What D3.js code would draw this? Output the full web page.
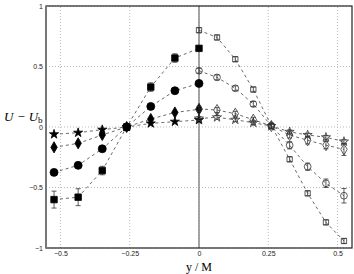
<!DOCTYPE html>
<html>
<head>
<meta charset="utf-8">
<script src="https://cdn.jsdelivr.net/npm/d3@7"></script>
<style>
  body { margin: 0; background: #fff; }
  svg { display: block; }
</style>
</head>
<body>
<div id="chart"></div>
<script>
// left half (filled markers) and right half (open markers)
var xLeft = [-0.523, -0.436, -0.349, -0.261, -0.174, -0.087, 0];
var xRight = [0, 0.065, 0.131, 0.196, 0.261, 0.327, 0.392, 0.458, 0.523];

var sqFilled = [-0.60, -0.58, -0.36, 0.0, 0.33, 0.57, 0.65];
var sqFilledErr = [0.07, 0.07, 0.035, 0.01, 0.035, 0.035, 0.01];
var ciFilled = [-0.375, -0.317, -0.18, 0.0, 0.17, 0.30, 0.36];
var diFilled = [-0.168, -0.135, -0.066, 0.0, 0.066, 0.12, 0.146];
var stFilled = [-0.06, -0.047, -0.022, 0.0, 0.03, 0.044, 0.058];

var sqOpen = [0.80, 0.74, 0.56, 0.31, 0.01, -0.267, -0.548, -0.788, -0.942];
var ciOpen = [0.465, 0.41, 0.32, 0.19, 0.008, -0.151, -0.328, -0.465, -0.568];
var ciOpenErr = [0.02, 0.02, 0.02, 0.02, 0.02, 0.03, 0.03, 0.035, 0.06];
var diOpen = [0.15, 0.14, 0.11, 0.06, 0.008, -0.066, -0.11, -0.15, -0.185];
var diOpenErr = [0.02, 0.02, 0.02, 0.02, 0.02, 0.025, 0.03, 0.03, 0.05];
var stOpen = [0.07, 0.08, 0.06, 0.035, 0.008, -0.04, -0.066, -0.085, -0.12];

var xTicks = [-0.5, -0.25, 0, 0.25, 0.5];
var yTicks = [-1, -0.5, 0, 0.5, 1];

var width = 354, height = 274;
var margin = {left: 46, right: 2, top: 6, bottom: 26};

var svg = d3.select('#chart').append('svg')
  .attr('width', width)
  .attr('height', height);

var x = d3.scaleLinear().domain([-0.552, 0.552]).range([margin.left, width - margin.right]);
var y = d3.scaleLinear().domain([-1, 1]).range([height - margin.bottom, margin.top]);

// grid
svg.append('g').selectAll('line')
  .data(xTicks).enter().append('line')
  .attr('x1', function (d) {return x(d);})
  .attr('x2', function (d) {return x(d);})
  .attr('y1', y(-1)).attr('y2', y(1))
  .attr('stroke', '#bbb').attr('stroke-width', 1)
  .attr('stroke-dasharray', '1,2');
svg.append('g').selectAll('line')
  .data(yTicks).enter().append('line')
  .attr('y1', function (d) {return y(d);})
  .attr('y2', function (d) {return y(d);})
  .attr('x1', x.range()[0]).attr('x2', x.range()[1])
  .attr('stroke', '#bbb').attr('stroke-width', 1)
  .attr('stroke-dasharray', '1,2');

// vertical line at zero
svg.append('line')
  .attr('x1', x(0)).attr('x2', x(0))
  .attr('y1', y(-1)).attr('y2', y(1))
  .attr('stroke', '#888').attr('stroke-width', 1.5);

// axes
var fmt = function (d) {return d === 0 ? '0' : String(d).replace('-', '\u2212');};
var xAxis = svg.append('g')
  .attr('transform', 'translate(0,' + y(-1) + ')')
  .call(d3.axisBottom(x).tickValues(xTicks).tickSize(0).tickPadding(3).tickFormat(fmt));
var yAxis = svg.append('g')
  .attr('transform', 'translate(' + x.range()[0] + ',0)')
  .call(d3.axisLeft(y).tickValues(yTicks).tickSize(0).tickPadding(3).tickFormat(fmt));
[xAxis, yAxis].forEach(function (a) {
  a.select('.domain').remove();
  a.selectAll('text').attr('font-family', 'Liberation Sans, Arial, sans-serif')
    .attr('font-size', 7).attr('fill', '#222');
});

// frame
svg.append('rect')
  .attr('x', x.range()[0]).attr('y', y(1))
  .attr('width', x.range()[1] - x.range()[0])
  .attr('height', y(-1) - y(1))
  .attr('fill', 'none').attr('stroke', '#222').attr('stroke-width', 1.2);
svg.append('line')
  .attr('x1', x.range()[0]).attr('x2', x.range()[0])
  .attr('y1', y(-1)).attr('y2', y(1))
  .attr('stroke', '#777').attr('stroke-width', 2);

var line = d3.line()
  .x(function (d) {return x(d[0]);})
  .y(function (d) {return y(d[1]);});

function zip(xs, ys, es) {
  return xs.map(function (v, i) {return [v, ys[i], es ? es[i] : 0];});
}

var series = [
  {pts: zip(xLeft, sqFilled, sqFilledErr), shape: d3.symbolSquare, size: 42, fill: '#000'},
  {pts: zip(xLeft, ciFilled), shape: d3.symbolCircle, size: 50, fill: '#000'},
  {pts: zip(xLeft, diFilled), shape: d3.symbolDiamond, size: 36, fill: '#000'},
  {pts: zip(xLeft, stFilled), shape: d3.symbolStar, size: 26, fill: '#000'},
  {pts: zip(xRight, sqOpen, sqOpen.map(function () {return 0.02;})), shape: d3.symbolSquare, size: 28, fill: 'none'},
  {pts: zip(xRight, ciOpen, ciOpenErr), shape: d3.symbolCircle, size: 36, fill: 'none'},
  {pts: zip(xRight, diOpen, diOpenErr), shape: d3.symbolDiamond, size: 36, fill: 'none'},
  {pts: zip(xRight, stOpen, stOpen.map(function () {return 0.015;})), shape: d3.symbolStar, size: 26, fill: 'none'}
];

series.forEach(function (s) {
  svg.append('path')
    .datum(s.pts)
    .attr('d', line)
    .attr('fill', 'none')
    .attr('stroke', '#444')
    .attr('stroke-width', 0.8)
    .attr('stroke-dasharray', '3,3');

  var g = svg.append('g');
  var eb = g.selectAll('.err').data(s.pts.filter(function (d) {return d[2] > 0;}))
    .enter().append('g').attr('stroke', '#333').attr('stroke-width', 0.8);
  eb.append('line')
    .attr('x1', function (d) {return x(d[0]);})
    .attr('x2', function (d) {return x(d[0]);})
    .attr('y1', function (d) {return y(d[1] - d[2]);})
    .attr('y2', function (d) {return y(d[1] + d[2]);});
  [-1, 1].forEach(function (sgn) {
    eb.append('line')
      .attr('x1', function (d) {return x(d[0]) - 2.5;})
      .attr('x2', function (d) {return x(d[0]) + 2.5;})
      .attr('y1', function (d) {return y(d[1] + sgn * d[2]);})
      .attr('y2', function (d) {return y(d[1] + sgn * d[2]);});
  });

  g.selectAll('.mk').data(s.pts).enter().append('path')
    .attr('transform', function (d) {return 'translate(' + x(d[0]) + ',' + y(d[1]) + ')';})
    .attr('d', d3.symbol().type(s.shape).size(s.size))
    .attr('fill', s.fill)
    .attr('stroke', s.fill === 'none' ? '#333' : '#000')
    .attr('stroke-width', 0.8);
});

// axis labels
var yl = svg.append('text')
  .attr('x', 4).attr('y', 121)
  .attr('font-family', 'Liberation Serif, serif')
  .attr('font-style', 'italic')
  .attr('font-size', 13)
  .attr('fill', '#000');
yl.append('tspan').text('U \u2212 U');
yl.append('tspan').attr('font-style', 'normal').attr('font-size', 9).attr('dy', 2).text('b');

svg.append('text')
  .attr('x', x(0)).attr('y', 271)
  .attr('text-anchor', 'middle')
  .attr('font-family', 'Liberation Serif, serif')
  .attr('font-size', 12)
  .attr('fill', '#000')
  .text('y / M');
</script>
</body>
</html>
